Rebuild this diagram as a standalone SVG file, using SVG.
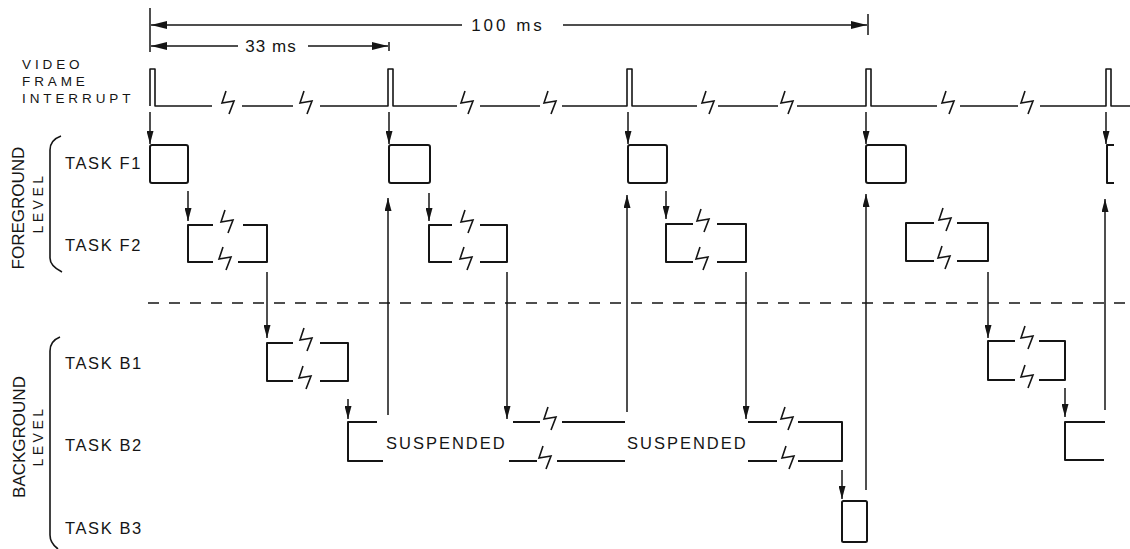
<svg xmlns="http://www.w3.org/2000/svg" xmlns:xlink="http://www.w3.org/1999/xlink" width="1130" height="549" viewBox="0 0 1130 549">
<style>
.ln{fill:none;stroke:#151515;stroke-width:1.6;stroke-linejoin:round;stroke-linecap:butt}
.bx{fill:none;stroke:#151515;stroke-width:2;stroke-linejoin:round}
.ar{fill:none;stroke:#151515;stroke-width:1.5;marker-end:url(#ah)}
.dim{fill:none;stroke:#151515;stroke-width:1.5}
.zz{fill:none;stroke:#151515;stroke-width:1.6;stroke-linejoin:miter}
.lbl{font-family:"Liberation Sans",Arial,sans-serif;fill:#151515}
.sig{font-size:13.5px;letter-spacing:3.9px}
.task{font-size:16.5px;letter-spacing:1.6px}
.side{font-size:17px}
.lev{font-size:14px;letter-spacing:3.5px}
.ms{font-size:17px;letter-spacing:1px}
</style>
<defs>
<marker id="ah" viewBox="0 0 13 7" refX="13" refY="3.5" markerWidth="13" markerHeight="7" markerUnits="userSpaceOnUse" orient="auto">
<path d="M0,0 L13,3.5 L0,7 Z" fill="#151515"/>
</marker>
<marker id="dh" viewBox="0 0 16 8" refX="16" refY="4" markerWidth="16" markerHeight="8" markerUnits="userSpaceOnUse" orient="auto">
<path d="M0,0 L16,4 L0,8 Z" fill="#151515"/>
</marker>
<path id="z" class="zz" d="M-2,-15 L-6,-3 L6,-5 L1,8"/>
</defs>
<rect width="1130" height="549" fill="#fff"/>

<!-- dimension lines -->
<g id="dimensions">
<path class="dim" d="M150,8 V52"/>
<path class="dim" d="M462,25 H151" marker-end="url(#dh)"/>
<path class="dim" d="M563,25 H867" marker-end="url(#dh)"/>
<path class="dim" d="M868,14 V35"/>
<text class="lbl ms" x="508" y="31" text-anchor="middle" style="letter-spacing:3px">100 ms</text>
<path class="dim" d="M238,46 H151" marker-end="url(#dh)"/>
<path class="dim" d="M308,46 H388" marker-end="url(#dh)"/>
<path class="dim" d="M389,42 V51"/>
<text class="lbl ms" x="271" y="52" text-anchor="middle">33 ms</text>
</g>

<!-- labels -->
<g id="labels">
<text class="lbl sig" x="22" y="69">VIDEO</text>
<text class="lbl sig" x="22" y="86">FRAME</text>
<text class="lbl sig" x="22" y="103">INTERRUPT</text>
<text class="lbl task" x="65" y="169">TASK F1</text>
<text class="lbl task" x="65" y="251">TASK F2</text>
<text class="lbl task" x="65" y="369">TASK B1</text>
<text class="lbl task" x="65" y="451">TASK B2</text>
<text class="lbl task" x="65" y="534">TASK B3</text>
<text class="lbl side" transform="translate(24,208) rotate(-90)" text-anchor="middle">FOREGROUND</text>
<text class="lbl lev" transform="translate(43,203) rotate(-90)" text-anchor="middle">LEVEL</text>
<text class="lbl side" transform="translate(25,437) rotate(-90)" text-anchor="middle">BACKGROUND</text>
<text class="lbl lev" transform="translate(43,436) rotate(-90)" text-anchor="middle">LEVEL</text>
<path class="ln" d="M61,136 Q50,140 50,150 V258 Q50,266 62,272"/>
<path class="ln" d="M60,337 Q50,341 50,351 V535 Q50,543 58,549"/>
</g>

<!-- video frame interrupt signal -->
<g id="video-signal">
<path class="ln" d="M150,106 V69 H155 V106 H212 M242,106 H293 M320,106 H388 V69 H393 V106 H457 M480,106 H540 M562,106 H627 V69 H632 V106 H697 M718,106 H778 M797,106 H866 V69 H871 V106 H937 M960,106 H1018 M1040,106 H1106 V69 H1111 V106 H1130"/>
<use xlink:href="#z" href="#z" x="228" y="106"/>
<use xlink:href="#z" href="#z" x="306" y="106"/>
<use xlink:href="#z" href="#z" x="467" y="106"/>
<use xlink:href="#z" href="#z" x="550" y="106"/>
<use xlink:href="#z" href="#z" x="708" y="106"/>
<use xlink:href="#z" href="#z" x="787" y="106"/>
<use xlink:href="#z" href="#z" x="948" y="106"/>
<use xlink:href="#z" href="#z" x="1027" y="106"/>
</g>

<!-- level divider -->
<path id="divider" d="M148,303 H1130" fill="none" stroke="#151515" stroke-width="1.5" stroke-dasharray="11 10"/>

<!-- Task F1 runs -->
<g id="f1-1"><rect class="bx" x="150" y="145" width="38" height="38" rx="2"/></g>
<g id="f1-2"><rect class="bx" x="389" y="145" width="41" height="38" rx="2"/></g>
<g id="f1-3"><rect class="bx" x="628" y="145" width="39" height="38" rx="2"/></g>
<g id="f1-4"><rect class="bx" x="866" y="145" width="40" height="38" rx="2"/></g>
<g id="f1-5"><path class="bx" d="M1114,145 H1107 V183 H1114"/></g>

<!-- Task F2 runs -->
<g id="f2-1">
<path class="bx" d="M213,225 H188 V262 H213 M243,225 H267 V262 H238"/>
<use xlink:href="#z" href="#z" x="227" y="225"/><use xlink:href="#z" href="#z" x="225" y="262"/>
</g>
<g id="f2-2">
<path class="bx" d="M452,225 H429 V262 H452 M480,225 H507 V262 H480"/>
<use xlink:href="#z" href="#z" x="467" y="225"/><use xlink:href="#z" href="#z" x="466" y="262"/>
</g>
<g id="f2-3">
<path class="bx" d="M693,224 H666 V262 H693 M717,224 H746 V262 H717"/>
<use xlink:href="#z" href="#z" x="703" y="224"/><use xlink:href="#z" href="#z" x="702" y="262"/>
</g>
<g id="f2-4">
<path class="bx" d="M934,223 H906 V261 H934 M957,223 H988 V261 H957"/>
<use xlink:href="#z" href="#z" x="945" y="223"/><use xlink:href="#z" href="#z" x="944" y="261"/>
</g>

<!-- Task B1 runs -->
<g id="b1-1">
<path class="bx" d="M293,343 H267 V381 H293 M320,343 H348 V381 H320"/>
<use xlink:href="#z" href="#z" x="306" y="343"/><use xlink:href="#z" href="#z" x="305" y="381"/>
</g>
<g id="b1-2">
<path class="bx" d="M1015,341 H988 V380 H1015 M1039,341 H1065 V380 H1039"/>
<use xlink:href="#z" href="#z" x="1027" y="341"/><use xlink:href="#z" href="#z" x="1027" y="380"/>
</g>

<!-- Task B2 runs -->
<g id="b2-1">
<path class="bx" d="M377,422 H348 V461 H383"/>
<text class="lbl task" x="386" y="449" style="letter-spacing:2px">SUSPENDED</text>
<path class="bx" d="M513,422 H540 M562,422 H625 M509,461 H537 M557,461 H625"/>
<use xlink:href="#z" href="#z" x="550" y="422"/><use xlink:href="#z" href="#z" x="545" y="461"/>
<text class="lbl task" x="627" y="449" style="letter-spacing:2px">SUSPENDED</text>
<path class="bx" d="M748,422 H777 M798,422 H842 V461 H798 M748,461 H777"/>
<use xlink:href="#z" href="#z" x="787" y="422"/><use xlink:href="#z" href="#z" x="788" y="461"/>
</g>
<g id="b2-2"><path class="bx" d="M1105,422 H1065 V460 H1104"/></g>

<!-- Task B3 run -->
<g id="b3-1"><rect class="bx" x="842" y="501" width="25" height="41" rx="1.5"/></g>

<!-- connectors -->
<g id="connectors">
<path class="ar" d="M150,112 V144"/>
<path class="ar" d="M389,112 V144"/>
<path class="ar" d="M628,112 V144"/>
<path class="ar" d="M866,112 V144"/>
<path class="ar" d="M1106,112 V144"/>
<path class="ar" d="M188,191 V221"/>
<path class="ar" d="M429,193 V221"/>
<path class="ar" d="M666,191 V219"/>
<path class="ar" d="M267,272 V338"/>
<path class="ar" d="M988,272 V338"/>
<path class="ar" d="M507,272 V419"/>
<path class="ar" d="M746,272 V419"/>
<path class="ar" d="M348,399 V419"/>
<path class="ar" d="M1065,388 V417"/>
<path class="ar" d="M842,470 V499"/>
<path class="ar" d="M388,415 V198"/>
<path class="ar" d="M627,412 V195"/>
<path class="ar" d="M866,490 V194"/>
<path class="ar" d="M1105,410 V199"/>
</g>
</svg>
